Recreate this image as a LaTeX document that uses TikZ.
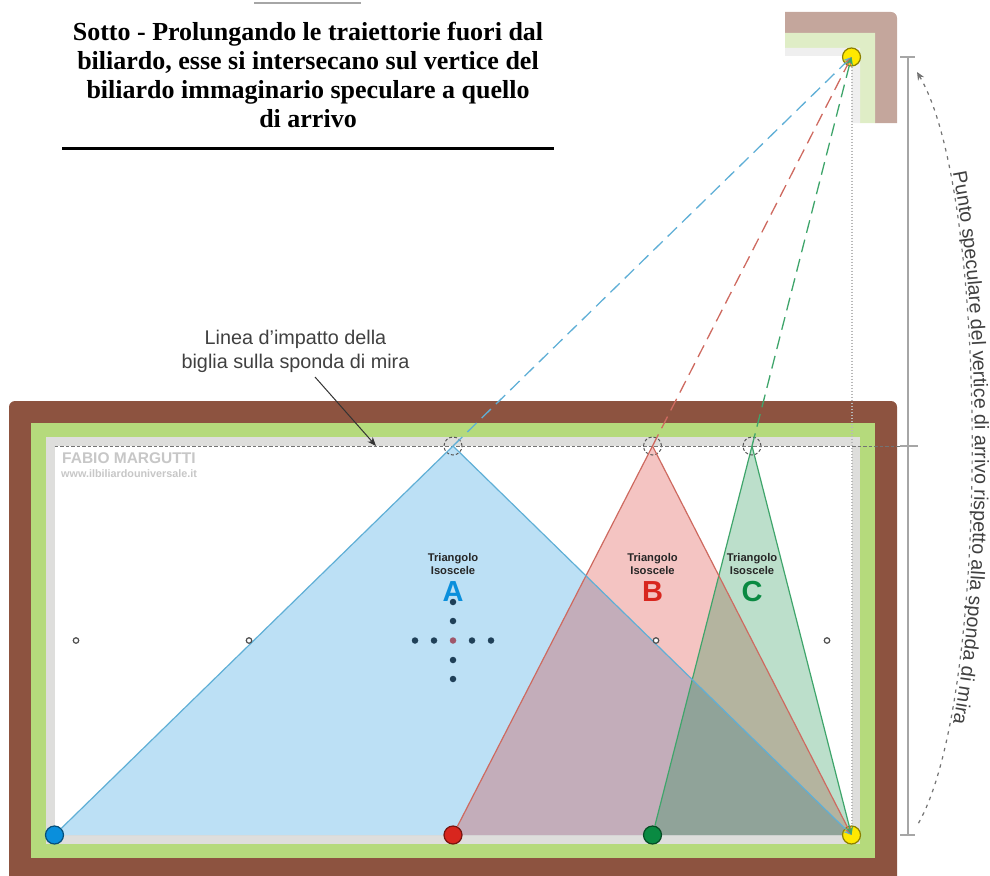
\documentclass[tikz,border=0pt]{standalone}
\usepackage{fontspec}
\setmainfont{Liberation Serif}
\setsansfont{Liberation Sans}
\usetikzlibrary{arrows.meta,backgrounds,decorations.text}
\definecolor{brownframe}{HTML}{8D5340}
\definecolor{greenframe}{HTML}{B5DA7C}
\definecolor{greyframe}{HTML}{DEDEDC}
\definecolor{paleframe}{HTML}{C4A69C}
\definecolor{palegreen}{HTML}{DFEDC6}
\definecolor{palegrey}{HTML}{EFEFEF}
\definecolor{blueball}{HTML}{0A8FDC}
\definecolor{redball}{HTML}{D8261E}
\definecolor{greenball}{HTML}{0A8A42}
\definecolor{yellowball}{HTML}{FFE800}
\definecolor{blueline}{HTML}{5FAFD6}
\definecolor{redline}{HTML}{CE6A60}
\definecolor{greenline}{HTML}{3FA56B}
\definecolor{darkdot}{HTML}{1F4058}
\definecolor{reddot}{HTML}{A0566A}
\tikzset{ball/.style = {shape=circle,draw=#1!55!black,fill=#1,line width=1.2pt,minimum size=18pt,inner sep=0pt}}
\tikzset{apex/.style = {shape=circle,draw=black!65,dash pattern=on 3pt off 2pt,line width=1pt,minimum size=18pt,inner sep=0pt}}
\tikzset{spot/.style = {shape=circle,draw=black!70,fill=white,line width=1.2pt,minimum size=5.5pt,inner sep=0pt}}
\tikzset{dot/.style = {shape=circle,fill=#1,minimum size=6.5pt,inner sep=0pt}}
\tikzset{edge/.style = {-{Stealth[length=8pt,width=7pt]},line width=1.2pt}}
\tikzset{ray/.style = {edge,dash pattern=on 13pt off 7pt,line width=1.3pt}}
\tikzset{tick/.style = {draw=black!35,line width=1.4pt}}
\tikzset{small/.style = {font=\sffamily\bfseries\fontsize{11.2}{13}\selectfont,align=center,text=black!85}}
\tikzset{letter/.style = {font=\sffamily\bfseries\fontsize{29}{29}\selectfont}}

\begin{document}
\begin{tikzpicture}[x=1pt,y=-1pt]
          \useasboundingbox (0,0) rectangle (990,875);

          \node[ball=blueball] (BA) at (54.5,835) {};
          \node[ball=redball] (BB) at (453,835) {};
          \node[ball=greenball] (BC) at (652.5,835) {};
          \node[ball=yellowball] (BY) at (851.5,835) {};
          \node[ball=yellowball] (MY) at (851.5,57) {};
          \node[apex] (VA) at (453,446) {};
          \node[apex] (VB) at (652.5,446) {};
          \node[apex] (VC) at (752,446) {};

          \begin{scope}[on background layer]
            % table
            \fill[brownframe,rounded corners=6pt] (9,401) -- (897,401) -- (897,890) -- (9,890) -- cycle;
            \fill[greenframe] (31,423) rectangle (875,858);
            \fill[greyframe] (46,437) rectangle (860,844);
            \fill[white] (54.5,446) rectangle (851.5,835);
            % mirror corner
            \fill[paleframe] (785,12) [rounded corners=6pt] -- (897,12) [sharp corners] -- (897,123) -- (875,123) -- (875,33) -- (785,33) -- cycle;
            \fill[palegreen] (785,33) -- (875,33) -- (875,123) -- (860,123) -- (860,48) -- (785,48) -- cycle;
            \fill[palegrey] (785,48) -- (860,48) -- (860,123) -- (851.5,123) -- (851.5,56) -- (785,56) -- cycle;
            % triangles
            \fill[blueball,fill opacity=.27] (BA.center) -- (VA.center) -- (BY.center) -- cycle;
            \fill[redball,fill opacity=.27] (BB.center) -- (VB.center) -- (BY.center) -- cycle;
            \fill[greenball,fill opacity=.27] (BC.center) -- (VC.center) -- (BY.center) -- cycle;
          \end{scope}

          \coordinate (LL) at (54.5,446);
          \coordinate (LR) at (900,446);
          \draw[black!55,dash pattern=on 3.5pt off 2pt,line width=1pt] (LL) -- (LR);
          \draw[black!28,dash pattern=on 1.5pt off 1.5pt,line width=2pt] (MY) -- (BY);

          \path[blueline,edge] (BA) edge[-] (VA.center);
          \path[redline,edge] (BB) edge[-] (VB.center);
          \path[greenline,edge] (BC) edge[-] (VC.center);
          \path[blueline,edge] (VA.center) edge (BY.center);
          \path[redline,edge] (VB.center) edge (BY.center);
          \path[greenline,edge] (VC.center) edge (BY.center);
          \path[blueline,ray] (VA.center) edge (MY.center);
          \path[redline,ray] (VB.center) edge (MY.center);
          \path[greenline,ray] (VC.center) edge (MY.center);

          % spots on the table
          \node[spot] (S1) at (76,640.5) {};
          \node[spot] (S2) at (249,640.5) {};
          \node[spot] (S3) at (656,640.5) {};
          \node[spot] (S4) at (827,640.5) {};
          \foreach \x in {415,434,472,491} \node[dot=darkdot] (H\x) at (\x,640.5) {};
          \foreach \y in {602,621,660,679} \node[dot=darkdot] (K\y) at (453,\y) {};
          \node[dot=reddot] (SC) at (453,640.5) {};

          \node[small] (TA) at (453,563.5) {Triangolo\\Isoscele};
          \node[small] (TB) at (652.5,563.5) {Triangolo\\Isoscele};
          \node[small] (TC) at (752,563.5) {Triangolo\\Isoscele};
          \node[letter,text=blueball] (LA) at (453,592) {A};
          \node[letter,text=redball] (LB) at (652.5,592) {B};
          \node[letter,text=greenball] (LC) at (752,592) {C};

          \node[font=\sffamily\bfseries\fontsize{15.5}{15.5}\selectfont,text=black!22,anchor=west,inner sep=0pt] (WM) at (62,458) {FABIO MARGUTTI};
          \node[font=\sffamily\bfseries\fontsize{10.8}{10.8}\selectfont,text=black!22,anchor=west,inner sep=0pt] (WW) at (61,474) {www.ilbiliardouniversale.it};

          % title
          \node[font=\rmfamily\bfseries\fontsize{26}{29.3}\selectfont,align=center,inner sep=0pt,anchor=north] (T) at (308,21.5) {Sotto - Prolungando le traiettorie fuori dal\\biliardo, esse si intersecano sul vertice del\\biliardo immaginario speculare a quello\\di arrivo};
          \coordinate (R1) at (62,148);
          \coordinate (R2) at (554,148);
          \draw[black,line width=3pt] (R1) -- (R2);
          \coordinate (R3) at (254,3);
          \coordinate (R4) at (361,3);
          \draw[black!35,line width=2pt] (R3) -- (R4);

          \node[font=\sffamily\fontsize{19.8}{23.5}\selectfont,align=center,text=black!75,inner sep=0pt] (LI) at (295.5,351.5) {Linea d'impatto della\\biglia sulla sponda di mira};
          \coordinate (LT) at (376,446);
          \draw[-{Stealth[length=9pt,width=7pt]},black!80,line width=1pt] (315,377) -- (LT);

          % dimension line
          \coordinate (D1) at (900,57);
          \coordinate (D2) at (915,57);
          \coordinate (D3) at (900,835);
          \coordinate (D4) at (915,835);
          \coordinate (D5) at (908,57);
          \coordinate (D6) at (908,835);
          \coordinate (D7) at (918,446);
          \draw[tick] (D1) -- (D2);
          \draw[tick] (D3) -- (D4);
          \draw[tick] (D5) -- (D6);
          \draw[tick] (LR) -- (D7);

          % curved arrow with its text
          \coordinate (C1) at (917,72);
          \coordinate (C2) at (918,824);
          \draw[{Stealth[length=8pt,width=7pt]}-,black!55,dash pattern=on 3.5pt off 5pt,line width=1.2pt] (C1) .. controls (990,195) and (990,700) .. (C2);
          \path[postaction={decorate,decoration={text along path,text align=center,raise=3pt,
            text={|\sffamily\fontsize{19.6}{20}\selectfont\color{black!75}|Punto speculare del vertice di arrivo rispetto alla sponda di mira}}}]
            (C1) .. controls (990,195) and (990,700) .. (C2);
        \end{tikzpicture}
\end{document}
